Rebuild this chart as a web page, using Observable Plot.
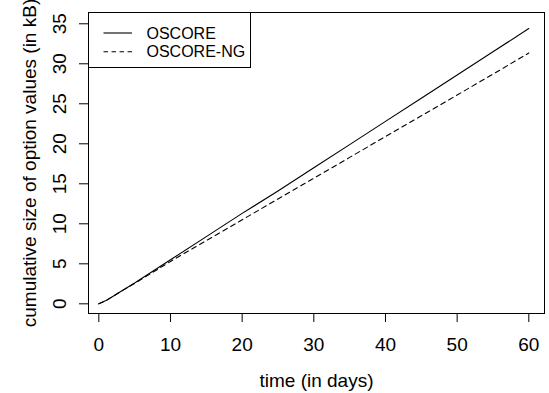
<!DOCTYPE html>
<html>
<head>
<meta charset="utf-8">
<script src="https://cdn.jsdelivr.net/npm/d3@7"></script>
<script src="https://cdn.jsdelivr.net/npm/@observablehq/plot@0.6"></script>
<style>
  html, body { margin: 0; padding: 0; background: #fff; }
  #wrap { position: relative; width: 549px; height: 393px; overflow: hidden; }
  #legend { position: absolute; left: 88px; top: 12px; width: 163px; height: 56px;
            border: 1px solid #000; background: #fff; box-sizing: border-box;
            font-family: "Liberation Sans", Arial, sans-serif; font-size: 16px; }
  #legend svg { position: absolute; left: 0; top: 0; }
</style>
</head>
<body>
<div id="wrap"></div>
<script>
const days      = [0, 1, 2, 3, 5, 10, 15, 20, 25, 30, 35, 40, 45, 50, 55, 60];
const oscore    = [0, 0.4, 0.95, 1.5, 2.6, 5.5, 8.4, 11.3, 14.1, 17.0, 19.9, 22.8, 25.7, 28.6, 31.5, 34.4];
const oscoreNg  = [0, 0.4, 0.95, 1.5, 2.55, 5.3, 7.9, 10.5, 13.1, 15.7, 18.3, 20.9, 23.5, 26.1, 28.7, 31.35];
const seriesNames = ["OSCORE", "OSCORE-NG"];
const xTicks = [0, 10, 20, 30, 40, 50, 60];
const yTicks = [0, 5, 10, 15, 20, 25, 30, 35];
const xTitle = "time (in days)";
const yTitle = "cumulative size of option values (in kB)";

const rows = days.map((d, i) => ({day: d, a: oscore[i], b: oscoreNg[i]}));

const chart = Plot.plot({
  width: 549,
  height: 393,
  marginLeft: 88,
  marginRight: 5,
  marginTop: 12,
  marginBottom: 80,
  style: {fontFamily: "Liberation Sans, Arial, sans-serif", fontSize: "19px", background: "#fff", color: "#000"},
  x: {domain: [-1.44, 62.19]},
  y: {domain: [-1.21, 36.41]},
  marks: [
    Plot.frame({stroke: "#000", strokeWidth: 1}),
    Plot.axisX({ticks: xTicks, tickSize: 9, tickPadding: 14.5, label: null, fontSize: 19, stroke: "#000"}),
    Plot.axisY({ticks: yTicks, tickSize: 9, tickFormat: () => "", label: null, stroke: "#000"}),
    Plot.text(yTicks, {y: d => d, text: d => String(d), frameAnchor: "left", dx: -23, rotate: -90,
                       textAnchor: "middle", lineAnchor: "bottom", fontSize: 19, fill: "#000"}),
    Plot.text([xTitle], {text: d => d, frameAnchor: "bottom", dy: 73, lineAnchor: "bottom", fontSize: 19, fill: "#000"}),
    Plot.text([yTitle], {text: d => d, frameAnchor: "left", dx: -53, rotate: -90, textAnchor: "middle",
                         lineAnchor: "bottom", fontSize: 19, fill: "#000"}),
    Plot.line(rows, {x: "day", y: "a", stroke: "#000", strokeWidth: 1.1}),
    Plot.line(rows, {x: "day", y: "b", stroke: "#000", strokeWidth: 1.1, strokeDasharray: "5,4"})
  ]
});

const wrap = document.getElementById("wrap");
wrap.appendChild(chart);

const legend = document.createElement("div");
legend.id = "legend";
const ns = "http://www.w3.org/2000/svg";
const lsvg = document.createElementNS(ns, "svg");
lsvg.setAttribute("width", 163);
lsvg.setAttribute("height", 56);
seriesNames.forEach((name, i) => {
  const cy = 20 + i * 18.7;
  const ln = document.createElementNS(ns, "line");
  ln.setAttribute("x1", 14.5); ln.setAttribute("x2", 43);
  ln.setAttribute("y1", cy); ln.setAttribute("y2", cy);
  ln.setAttribute("stroke", "#000"); ln.setAttribute("stroke-width", 1.1);
  if (i === 1) ln.setAttribute("stroke-dasharray", "4.5,3.5");
  lsvg.appendChild(ln);
  const tx = document.createElementNS(ns, "text");
  tx.setAttribute("x", 57.5); tx.setAttribute("y", cy + 5.7);
  tx.setAttribute("font-family", "Liberation Sans, Arial, sans-serif");
  tx.setAttribute("font-size", 16);
  tx.textContent = name;
  lsvg.appendChild(tx);
});
legend.appendChild(lsvg);
wrap.appendChild(legend);
</script>
</body>
</html>
